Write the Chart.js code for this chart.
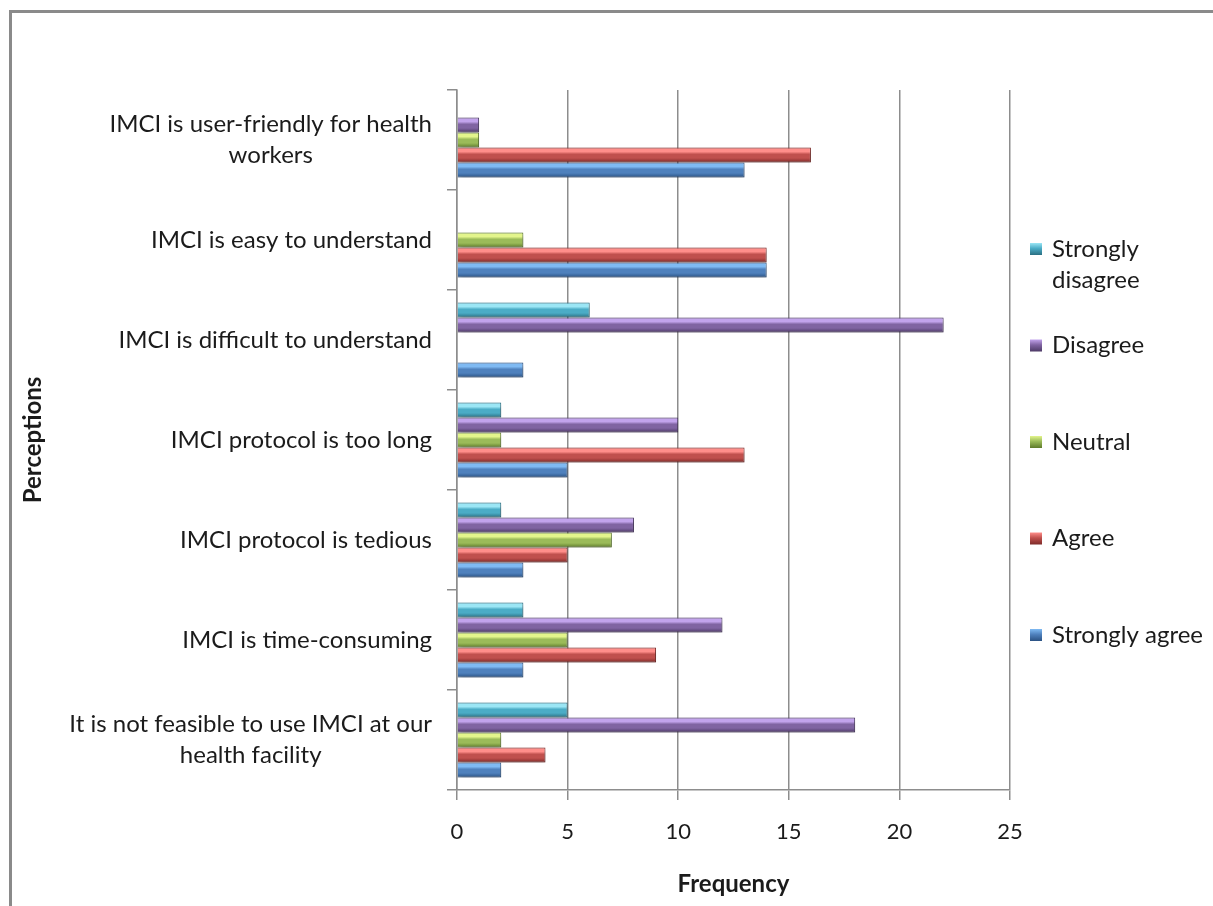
<!DOCTYPE html>
<html>
<head>
<meta charset="utf-8">
<script src="https://cdn.jsdelivr.net/npm/chart.js@4.4.1/dist/chart.umd.min.js"></script>
<style>
  html, body { margin: 0; padding: 0; background: #fff; overflow: hidden; }
  #wrap { width: 1213px; height: 906px; position: relative; }
</style>
</head>
<body>
<div id="wrap"><canvas id="c" width="1213" height="906"></canvas></div>
<script>
// Perception statements (top to bottom) and response counts per statement
const categories = [
  ['IMCI is user-friendly for health', 'workers'],
  'IMCI is easy to understand',
  'IMCI is difficult to understand',
  'IMCI protocol is too long',
  'IMCI protocol is tedious',
  'IMCI is time-consuming',
  ['It is not feasible to use IMCI at our', 'health facility']
];
const stronglyDisagree = [0, 0, 6, 2, 2, 3, 5];
const disagree         = [1, 0, 22, 10, 8, 12, 18];
const neutral          = [1, 3, 0, 2, 7, 5, 2];
const agree            = [16, 14, 0, 13, 5, 9, 4];
const stronglyAgree    = [13, 14, 3, 5, 3, 3, 2];
const seriesNames = ['Strongly disagree', 'Disagree', 'Neutral', 'Agree', 'Strongly agree'];
const xTickValues = [0, 5, 10, 15, 20, 25];

// Bevel palette: light highlight, base, dark edge
const palette = {
  'Strongly disagree': ['#9be6f5', '#4bacc6', '#2a6f82'],
  'Disagree':          ['#c2a3ec', '#8064a2', '#4d3a66'],
  'Neutral':           ['#e3f58c', '#9bbb59', '#5d7a2a'],
  'Agree':             ['#ff8e8a', '#c0504d', '#7d2a28'],
  'Strongly agree':    ['#7fbaf3', '#4f81bd', '#2b5283']
};

const FONT = 'Lato, "Open Sans", sans-serif';
const TEXT = '#1b1b1b';
const GRID = '#8d8d8d';

const seriesData = [stronglyDisagree, disagree, neutral, agree, stronglyAgree];

const datasets = seriesNames.map((name, i) => ({
  label: name,
  data: seriesData[i],
  backgroundColor: palette[name][1],
  borderColor: palette[name][2],
  borderWidth: 1,
  categoryPercentage: 0.75,
  barPercentage: 1.0
}));

function bevelGradient(ctx, top, bottom, cols) {
  const g = ctx.createLinearGradient(0, top, 0, bottom);
  g.addColorStop(0, cols[1]);
  g.addColorStop(0.1, cols[0]);
  g.addColorStop(0.28, cols[0]);
  g.addColorStop(0.45, cols[1]);
  g.addColorStop(0.7, cols[1]);
  g.addColorStop(1, cols[2]);
  return g;
}

// Frame around the whole figure
const framePlugin = {
  id: 'frame',
  beforeDraw(chart) {
    const ctx = chart.ctx;
    ctx.save();
    ctx.fillStyle = '#ffffff';
    ctx.fillRect(0, 0, chart.width, chart.height);
    ctx.strokeStyle = '#8a8a8a';
    ctx.lineWidth = 3;
    ctx.strokeRect(10.5, 11.5, chart.width + 20, chart.height + 20);
    ctx.restore();
  }
};

// Shaded bevel fill and soft drop shadow for each bar
const bevelPlugin = {
  id: 'bevel',
  beforeDatasetsDraw(chart) {
    const ctx = chart.ctx;
    chart.data.datasets.forEach((ds, di) => {
      const meta = chart.getDatasetMeta(di);
      const cols = palette[ds.label];
      meta.data.forEach(el => {
        const h = el.height;
        const g = bevelGradient(ctx, el.y - h / 2, el.y + h / 2, cols);
        el.options = Object.assign({}, el.options, { backgroundColor: g });
      });
    });
    ctx.save();
    ctx.shadowColor = 'rgba(0,0,0,0.3)';
    ctx.shadowBlur = 5;
    ctx.shadowOffsetX = 1;
    ctx.shadowOffsetY = 3;
  },
  afterDatasetsDraw(chart) {
    chart.ctx.restore();
  }
};

// Category labels: each block right-aligned near the axis, lines centred within the block
const categoryLabelPlugin = {
  id: 'categoryLabels',
  afterDraw(chart) {
    const ctx = chart.ctx;
    const yScale = chart.scales.y;
    const right = yScale.right - 25;
    const lineH = 31;
    ctx.save();
    ctx.font = '24px ' + FONT;
    ctx.fillStyle = TEXT;
    ctx.textAlign = 'center';
    ctx.textBaseline = 'middle';
    chart.data.labels.forEach((lab, i) => {
      const lines = Array.isArray(lab) ? lab : [lab];
      const w = Math.max(...lines.map(l => ctx.measureText(l).width));
      const cx = right - w / 2;
      const yc = yScale.getPixelForValue(i);
      const y0 = yc - (lines.length - 1) * lineH / 2;
      lines.forEach((l, k) => ctx.fillText(l, cx, y0 + k * lineH));
    });
    ctx.restore();
  }
};

// Legend column on the right, with wrapped labels
const legendPlugin = {
  id: 'sideLegend',
  afterDraw(chart) {
    const ctx = chart.ctx;
    const area = chart.chartArea;
    const boxX = area.right + 20;
    const textX = boxX + 22;
    const maxW = 166;
    const firstY = 249, step = 96.5, lineH = 31;
    ctx.save();
    ctx.font = '24px ' + FONT;
    ctx.textBaseline = 'middle';
    ctx.textAlign = 'left';
    chart.data.datasets.forEach((ds, i) => {
      const y = firstY + i * step;
      const cols = palette[ds.label];
      const g = ctx.createLinearGradient(0, y - 6, 0, y + 6);
      g.addColorStop(0, cols[0]);
      g.addColorStop(0.45, cols[1]);
      g.addColorStop(1, cols[2]);
      ctx.fillStyle = g;
      ctx.fillRect(boxX, y - 6, 12, 12);
      // wrap words into lines
      const words = ds.label.split(' ');
      const lines = [];
      let cur = '';
      words.forEach(wd => {
        const t = cur ? cur + ' ' + wd : wd;
        if (ctx.measureText(t).width > maxW && cur) { lines.push(cur); cur = wd; }
        else cur = t;
      });
      lines.push(cur);
      ctx.fillStyle = TEXT;
      lines.forEach((l, k) => ctx.fillText(l, textX, y + k * lineH));
    });
    ctx.restore();
  }
};

new Chart(document.getElementById('c'), {
  type: 'bar',
  data: { labels: categories, datasets },
  options: {
    indexAxis: 'y',
    responsive: false,
    animation: false,
    devicePixelRatio: 1,
    layout: { padding: { top: 90, right: 203, left: 0, bottom: 0 } },
    plugins: {
      legend: { display: false },
      tooltip: { enabled: false }
    },
    scales: {
      x: {
        min: 0, max: 25,
        afterBuildTicks(scale) { scale.ticks = xTickValues.map(v => ({ value: v })); },
        afterFit(scale) { scale.height = 116; },
        grid: { color: GRID, lineWidth: 1.5, tickLength: 10, drawTicks: true },
        border: { color: GRID, width: 1.5 },
        ticks: { color: TEXT, font: { family: FONT, size: 22 }, padding: 19 },
        title: {
          display: true, text: 'Frequency', color: TEXT,
          font: { family: FONT, size: 24, weight: 'bold' },
          padding: { top: 0, bottom: 7 }
        }
      },
      y: {
        afterFit(scale) { scale.width = 457; },
        grid: { display: true, drawOnChartArea: false, offset: true, color: GRID, lineWidth: 1.5, tickLength: 10 },
        border: { color: GRID, width: 1.5 },
        ticks: { display: false },
        title: {
          display: true, text: 'Perceptions', color: TEXT,
          font: { family: FONT, size: 24, weight: 'bold' },
          padding: { top: 19, bottom: 0 }
        }
      }
    }
  },
  plugins: [framePlugin, bevelPlugin, categoryLabelPlugin, legendPlugin]
});
</script>
</body>
</html>
